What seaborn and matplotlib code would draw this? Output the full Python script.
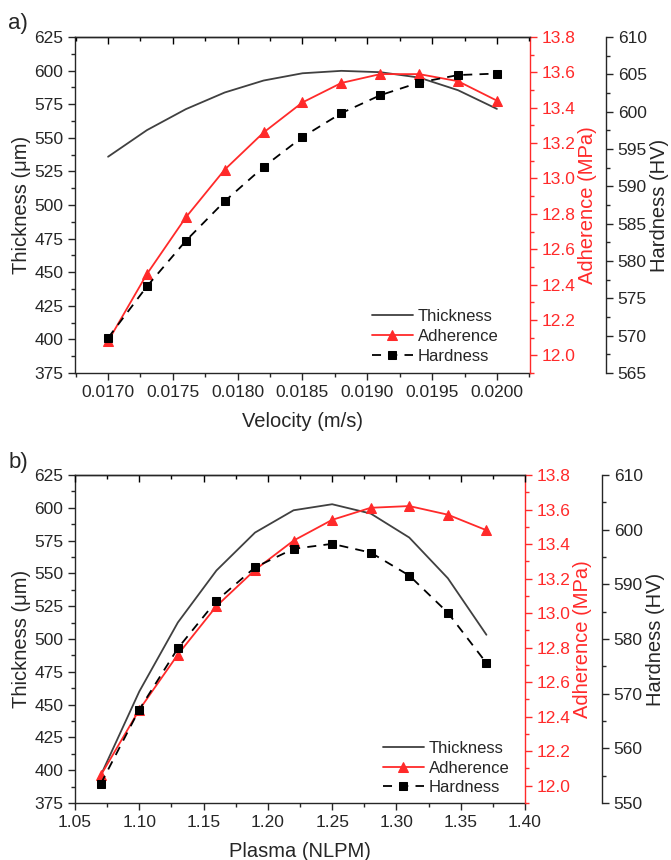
import numpy as np
import pandas as pd
import matplotlib
matplotlib.use('Agg')
import matplotlib.pyplot as plt
from matplotlib.ticker import MultipleLocator, FormatStrFormatter, NullFormatter
import seaborn as sns

# panel a data
velocity = [0.0170, 0.0173, 0.0176, 0.0179, 0.0182, 0.0185, 0.0188, 0.0191, 0.0194, 0.0197, 0.0200]
thick_a = [535.9, 555.7, 571.3, 583.7, 592.6, 598.0, 599.8, 598.8, 594.8, 585.4, 571.5]
adh_a = [12.08, 12.46, 12.78, 13.05, 13.26, 13.43, 13.54, 13.59, 13.59, 13.55, 13.44]
hard_a = [569.7, 576.6, 582.7, 588.0, 592.6, 596.6, 599.8, 602.2, 603.9, 604.9, 605.1]

# panel b data
plasma = [1.07, 1.10, 1.13, 1.16, 1.19, 1.22, 1.25, 1.28, 1.31, 1.34, 1.37]
thick_b = [396.0, 460.0, 512.6, 552.2, 581.1, 598.1, 602.7, 595.6, 577.3, 546.3, 503.2]
adh_b = [12.06, 12.44, 12.76, 13.04, 13.25, 13.42, 13.54, 13.61, 13.62, 13.57, 13.48]
hard_b = [553.5, 567.1, 578.3, 587.0, 593.1, 596.5, 597.4, 595.8, 591.6, 584.8, 575.6]

sns.set_style('ticks')
plt.rcParams['font.family'] = ['Liberation Sans', 'DejaVu Sans']

RED = '#ff2a2a'
GRAY = '#404040'
TICK_FS = 12.5
LAB_FS = 14.5


def panel(ax, x, thick, adh, hard, xlim, xmajor, xfmt, xlabel, hlim, hstep, hoffset, tag, leg_anchor):
    df = pd.DataFrame({'x': x, 't': thick, 'a': adh, 'h': hard})
    ax2 = ax.twinx()
    ax3 = ax.twinx()
    ax3.spines['right'].set_position(('axes', hoffset))

    sns.lineplot(data=df, x='x', y='t', ax=ax, color=GRAY, lw=1.3, label='Thickness', legend=False)
    sns.lineplot(data=df, x='x', y='a', ax=ax2, color=RED, lw=1.3, marker='^', ms=7,
                 mec=RED, label='Adherence', legend=False)
    sns.lineplot(data=df, x='x', y='h', ax=ax3, color='black', lw=1.3, ls=(0, (5, 4)),
                 marker='s', ms=6, mec='black', label='Hardness', legend=False)

    ax.set_xlim(*xlim)
    ax.set_ylim(375, 625)
    ax2.set_ylim(11.9, 13.8)
    ax3.set_ylim(*hlim)

    ax.xaxis.set_major_locator(MultipleLocator(xmajor))
    ax.xaxis.set_minor_locator(MultipleLocator(xmajor / 2))
    ax.xaxis.set_major_formatter(FormatStrFormatter(xfmt))
    ax.yaxis.set_major_locator(MultipleLocator(25))
    ax.yaxis.set_minor_locator(MultipleLocator(12.5))
    ax2.yaxis.set_major_locator(MultipleLocator(0.2))
    ax2.yaxis.set_minor_locator(MultipleLocator(0.1))
    ax2.yaxis.set_major_formatter(FormatStrFormatter('%.1f'))
    ax3.yaxis.set_major_locator(MultipleLocator(hstep))
    ax3.yaxis.set_minor_locator(MultipleLocator(hstep / 2))

    ax.tick_params(axis='both', which='major', length=5, width=1, labelsize=TICK_FS)
    ax.tick_params(axis='both', which='minor', length=3, width=1)
    ax2.tick_params(axis='y', which='major', length=5, width=1, colors=RED, labelsize=TICK_FS)
    ax2.tick_params(axis='y', which='minor', length=3, width=1, colors=RED)
    ax3.tick_params(axis='y', which='major', length=5, width=1, labelsize=TICK_FS)
    ax3.tick_params(axis='y', which='minor', length=3, width=1)

    # inward ticks along the top spine
    top = ax.twiny()
    top.set_xlim(*xlim)
    top.xaxis.set_major_locator(MultipleLocator(xmajor))
    top.xaxis.set_minor_locator(MultipleLocator(xmajor / 2))
    top.xaxis.set_major_formatter(NullFormatter())
    top.tick_params(axis='x', which='major', direction='in', length=5, width=1,
                    top=True, bottom=False, labeltop=False, color='black')
    top.tick_params(axis='x', which='minor', direction='in', length=3, width=1,
                    top=True, bottom=False, color='black')
    for s in ['left', 'right', 'bottom']:
        top.spines[s].set_visible(False)

    ax.spines['right'].set_visible(False)
    ax2.spines['right'].set_color(RED)
    for s in ['left', 'top', 'bottom']:
        ax2.spines[s].set_visible(False)
        ax3.spines[s].set_visible(False)
    for a in (ax, ax2, ax3, top):
        for s in a.spines.values():
            s.set_linewidth(1)

    ax.set_xlabel(xlabel, fontsize=LAB_FS, labelpad=9)
    ax.set_ylabel('Thickness (\u03bcm)', fontsize=LAB_FS, labelpad=2)
    ax2.set_ylabel('Adherence (MPa)', fontsize=LAB_FS, color=RED, labelpad=2)
    ax3.set_ylabel('Hardness (HV)', fontsize=LAB_FS, labelpad=2)

    handles = []
    labels = []
    for a in (ax, ax2, ax3):
        h, l = a.get_legend_handles_labels()
        handles += h
        labels += l
    ax3.legend(handles, labels, loc='lower right', bbox_to_anchor=leg_anchor,
               frameon=False, fontsize=12, handlelength=2.45, handletextpad=0.3,
               labelspacing=0.28, borderaxespad=0)
    ax.text(-0.148, 1.07, tag, transform=ax.transAxes, fontsize=16, va='top', ha='left')


fig = plt.figure(figsize=(6.71, 8.60), dpi=100)
ax_a = fig.add_axes([0.1118, 0.5663, 0.678, 0.3907])
ax_b = fig.add_axes([0.1118, 0.0663, 0.6706, 0.3814])

panel(ax_a, velocity, thick_a, adh_a, hard_a, (0.016745, 0.020255), 0.0005, '%.4f',
      'Velocity (m/s)', (565, 610), 5, 1.167, 'a)', (0.945, 0.008))
panel(ax_b, plasma, thick_b, adh_b, hard_b, (1.05, 1.40), 0.05, '%.2f',
      'Plasma (NLPM)', (550, 610), 10, 1.171, 'b)', (0.98, 0.003))

fig.savefig('out.png', dpi=100)
